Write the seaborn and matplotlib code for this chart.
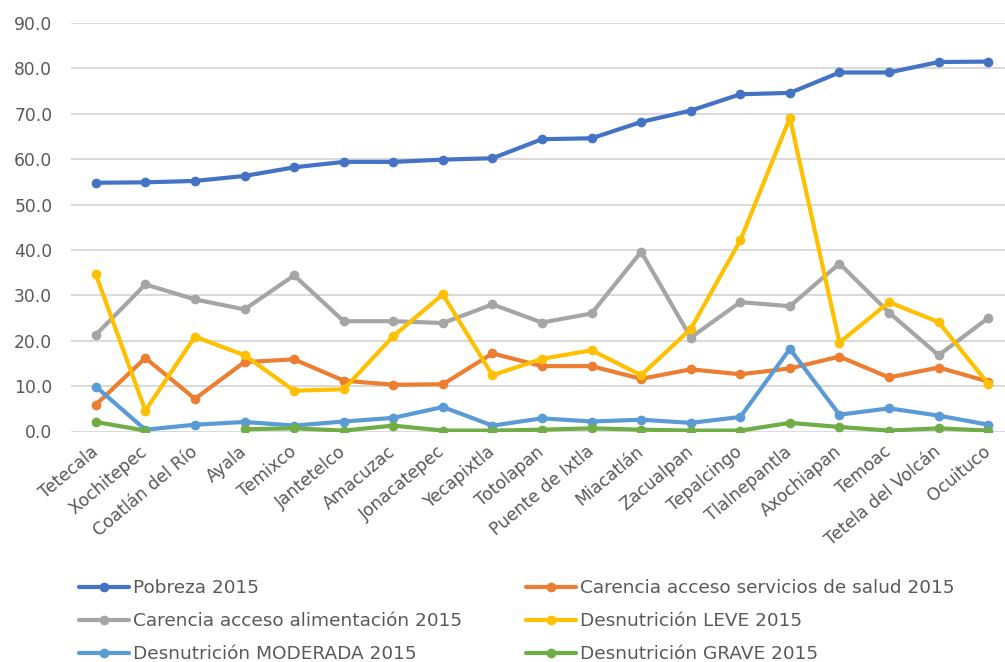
import numpy as np
import pandas as pd
import matplotlib
matplotlib.use("Agg")
import matplotlib.pyplot as plt
import seaborn as sns

municipios = [
    "Tetecala", "Xochitepec", "Coatlán del Río", "Ayala", "Temixco",
    "Jantetelco", "Amacuzac", "Jonacatepec", "Yecapixtla", "Totolapan",
    "Puente de Ixtla", "Miacatlán", "Zacualpan", "Tepalcingo",
    "Tlalnepantla", "Axochiapan", "Temoac", "Tetela del Volcán", "Ocuituco",
]

pobreza = [54.8, 54.9, 55.2, 56.3, 58.2, 59.4, 59.4, 59.9, 60.2, 64.4,
           64.6, 68.2, 70.7, 74.3, 74.6, 79.1, 79.1, 81.4, 81.5]
salud = [5.9, 16.2, 7.2, 15.3, 15.9, 11.2, 10.3, 10.4, 17.2, 14.4,
         14.4, 11.6, 13.7, 12.6, 13.9, 16.5, 11.9, 14.1, 11.0]
alimentacion = [21.3, 32.4, 29.1, 26.9, 34.4, 24.3, 24.3, 23.9, 28.0, 24.0,
                26.0, 39.6, 20.7, 28.5, 27.6, 37.0, 26.2, 16.8, 25.0]
leve = [34.6, 4.6, 20.9, 16.8, 9.0, 9.3, 21.0, 30.2, 12.4, 16.0,
        17.9, 12.4, 22.6, 42.1, 69.1, 19.6, 28.5, 24.1, 10.5]
moderada = [9.9, 0.4, 1.5, 2.1, 1.3, 2.2, 3.0, 5.4, 1.3, 2.9,
            2.2, 2.6, 1.9, 3.2, 18.2, 3.7, 5.1, 3.5, 1.5]
grave = [2.1, 0.2, np.nan, 0.5, 0.7, 0.2, 1.3, 0.2, 0.2, 0.4,
         0.7, 0.4, 0.2, 0.2, 1.9, 1.0, 0.2, 0.7, 0.2]

series = {
    "Pobreza 2015": pobreza,
    "Carencia acceso servicios de salud 2015": salud,
    "Carencia acceso alimentación 2015": alimentacion,
    "Desnutrición LEVE 2015": leve,
    "Desnutrición MODERADA 2015": moderada,
    "Desnutrición GRAVE 2015": grave,
}
colores = ["#4472C4", "#ED7D31", "#A5A5A5", "#FFC000", "#5B9BD5", "#70AD47"]

# Long table; a missing value starts a new line segment (units) so it shows as a gap
frames = []
for nombre, valores in series.items():
    v = np.asarray(valores, dtype=float)
    seg = np.cumsum(np.isnan(v))
    frames.append(pd.DataFrame({
        "x": np.arange(len(municipios)),
        "valor": v,
        "serie": nombre,
        "tramo": seg,
    }))
df = pd.concat(frames, ignore_index=True)

sns.set_style("white")
plt.rcParams["font.family"] = ["DejaVu Sans"]
texto = "#595959"

fig = plt.figure(figsize=(10.05, 6.62), dpi=100)
ax = fig.add_axes([71 / 1005, 1 - 431.5 / 662, (1013 - 71) / 1005, (431.5 - 23) / 662])

sns.lineplot(
    data=df, x="x", y="valor", hue="serie", units="tramo", estimator=None,
    hue_order=list(series.keys()), palette=colores, marker="o",
    markersize=7, markeredgewidth=0, linewidth=3.0, ax=ax, legend=True,
)

ax.set_xlim(-0.5, len(municipios) - 0.5)
ax.set_ylim(0, 90)
ax.set_yticks(np.arange(0, 91, 10))
ax.set_yticklabels([f"{t:.1f}" for t in np.arange(0, 91, 10)])
ax.yaxis.grid(True, color="#D9D9D9", linewidth=1.4)
ax.set_axisbelow(True)
for s in ax.spines.values():
    s.set_visible(False)
ax.tick_params(axis="y", length=0, pad=13.5, labelsize=12.3, labelcolor=texto)
ax.set_xticks(np.arange(len(municipios)))
ax.set_xticklabels(municipios, rotation=40, ha="right", va="center",
                   rotation_mode="anchor")
ax.tick_params(axis="x", length=0, pad=13, labelsize=12.3, labelcolor=texto)
ax.set_xlabel("")
ax.set_ylabel("")

handles, labels = ax.get_legend_handles_labels()
ax.get_legend().remove()
orden = [0, 2, 4, 1, 3, 5]
leg = fig.legend([handles[i] for i in orden], [labels[i] for i in orden],
                 ncol=2, loc="upper left", bbox_to_anchor=(79 / 1005, 1 - 579 / 662),
                 frameon=False, fontsize=13.3, handlelength=2.7, handletextpad=0.2,
                 columnspacing=3.5, labelspacing=0.82, borderpad=0, borderaxespad=0)
for t in leg.get_texts():
    t.set_color(texto)

fig.savefig("out.png", dpi=100)
